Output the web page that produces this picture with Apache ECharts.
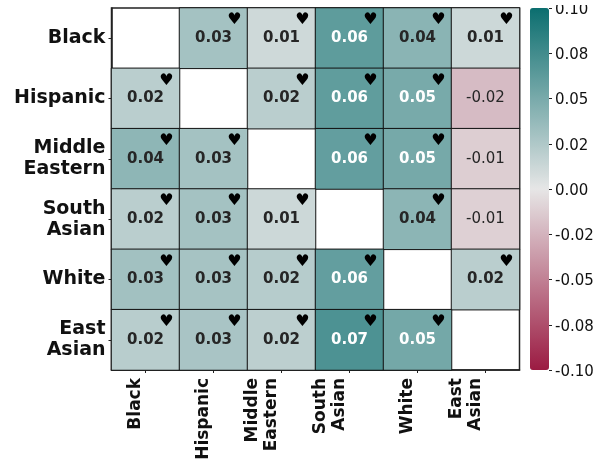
<!DOCTYPE html>
<html lang="en" style="height: 100%">
<head>
  <meta charset="utf-8">
</head>
<body style="height: 100%; margin: 0; background: #fff">
  <div id="container" style="width: 606px; height: 465px"></div>
  <script src="https://fastly.jsdelivr.net/npm/echarts@6/dist/echarts.min.js"></script>
  <script>
    const xLabels = ['Black', 'Hispanic', 'Middle\nEastern', 'South\nAsian', 'White', 'East\nAsian'];
    const yLabels = ['Black', 'Hispanic', 'Middle\nEastern', 'South\nAsian', 'White', 'East\nAsian'];
    const matrix = [
      [null, 0.030, 0.011, 0.062, 0.042, 0.012],
      [0.020, null, 0.020, 0.061, 0.050, -0.021],
      [0.040, 0.030, null, 0.060, 0.051, -0.012],
      [0.020, 0.030, 0.012, null, 0.041, -0.011],
      [0.031, 0.029, 0.022, 0.060, null, 0.020],
      [0.021, 0.028, 0.019, 0.070, 0.052, null]
    ];
    // cells marked with a heart: [column, row]
    const hearts = [
      [1, 0], [2, 0], [3, 0], [4, 0], [5, 0],
      [0, 1], [2, 1], [3, 1], [4, 1],
      [0, 2], [1, 2], [3, 2], [4, 2],
      [0, 3], [1, 3], [2, 3], [4, 3],
      [0, 4], [1, 4], [2, 4], [3, 4], [5, 4],
      [0, 5], [1, 5], [2, 5], [3, 5], [4, 5]
    ];
    const barTicks = ['-0.10', '-0.08', '-0.05', '-0.02', '0.00', '0.02', '0.05', '0.08', '0.10'];
    const barColors = ['#9b1b42', '#e6e6e6', '#0b6e6f'];

    const font = 'DejaVu Sans';
    const cells = [];
    matrix.forEach(function (row, r) {
      row.forEach(function (v, c) {
        if (v === null) return;
        cells.push({
          value: [c, r, v],
          label: {
            color: v >= 0.05 ? '#ffffff' : '#262626',
            fontWeight: v < 0 ? 'normal' : 'bold'
          }
        });
      });
    });

    const myChart = echarts.init(document.getElementById('container'), null, { renderer: 'canvas' });
    const option = {
      animation: false,
      backgroundColor: '#fff',
      grid: [
        { left: 111.5, top: 8, width: 408, height: 362, show: true, borderColor: '#222', borderWidth: 1.5, backgroundColor: '#fff', outerBoundsMode: 'none' },
        { left: 530, top: 8, width: 19, height: 362, show: false, outerBoundsMode: 'none' },
        { left: 530, top: 10, width: 19, height: 362, show: false, outerBoundsMode: 'none' }
      ],
      xAxis: [
        {
          type: 'category', data: xLabels, gridIndex: 0,
          axisLine: { show: true, lineStyle: { color: '#222', width: 1.5 } },
          axisTick: { show: true, alignWithLabel: true, length: 3, lineStyle: { color: '#222' } },
          splitLine: { show: false },
          axisLabel: {
            interval: 0, rotate: 90, align: 'right', verticalAlign: 'bottom', margin: 8,
            fontFamily: font, fontWeight: 'bold', fontSize: 17, lineHeight: 19, color: '#111'
          }
        },
        { type: 'category', gridIndex: 1, show: false, data: ['bar'] },
        { type: 'category', gridIndex: 2, show: false, data: ['bar'] }
      ],
      yAxis: [
        {
          type: 'category', data: yLabels, gridIndex: 0, inverse: true,
          axisLine: { show: true, lineStyle: { color: '#222', width: 1.5 } },
          axisTick: { show: true, alignWithLabel: true, length: 3, lineStyle: { color: '#222' } },
          splitLine: { show: false },
          axisLabel: {
            interval: 0, margin: 6, align: 'right',
            fontFamily: font, fontWeight: 'bold', fontSize: 19, lineHeight: 21, color: '#111'
          }
        },
        // tick marks of the colour bar
        {
          type: 'category', data: barTicks, gridIndex: 1, position: 'right', boundaryGap: false,
          axisLine: { show: true, onZero: false, lineStyle: { color: '#222', opacity: 0 } },
          splitLine: { show: false },
          axisTick: { show: true, alignWithLabel: true, length: 3, lineStyle: { color: '#222', width: 1 } },
          axisLabel: { show: false }
        },
        // labels of the colour bar, set 2px lower so digits centre on the ticks
        {
          type: 'category', data: barTicks, gridIndex: 2, position: 'right', boundaryGap: false,
          axisLine: { show: false, onZero: false },
          splitLine: { show: false },
          axisTick: { show: false },
          axisLabel: {
            interval: 0, margin: 6, fontFamily: font, fontSize: 15, color: '#111',
            showMinLabel: true, showMaxLabel: true
          }
        }
      ],
      visualMap: {
        type: 'continuous', min: -0.1, max: 0.1, seriesIndex: 0,
        left: 530, top: 8, itemWidth: 19, itemHeight: 362, padding: 0,
        calculable: false, text: null, showLabel: false, hoverLink: false,
        inRange: { color: barColors }
      },
      // the reference is cropped just above the top colour bar label
      graphic: [{
        type: 'rect', left: 553, top: 0, z: 100,
        shape: { width: 53, height: 5 }, style: { fill: '#fff' }
      }],
      series: [
        {
          type: 'heatmap', xAxisIndex: 0, yAxisIndex: 0, data: cells,
          itemStyle: { borderColor: '#111', borderWidth: 1 },
          label: {
            show: true, fontFamily: font, fontSize: 15,
            formatter: function (p) { return p.value[2].toFixed(2); }
          }
        },
        {
          type: 'scatter', xAxisIndex: 0, yAxisIndex: 0, data: hearts, symbolSize: 0,
          silent: true, z: 5, itemStyle: { opacity: 1 },
          label: {
            show: true, position: 'inside', formatter: '\u2665', offset: [21, -18],
            fontFamily: font, fontSize: 16, color: '#000'
          }
        },
        { type: 'scatter', xAxisIndex: 1, yAxisIndex: 1, data: [], silent: true },
        { type: 'scatter', xAxisIndex: 2, yAxisIndex: 2, data: [], silent: true }
      ]
    };
    myChart.setOption(option);
    window.addEventListener('resize', myChart.resize);
  </script>
</body>
</html>
